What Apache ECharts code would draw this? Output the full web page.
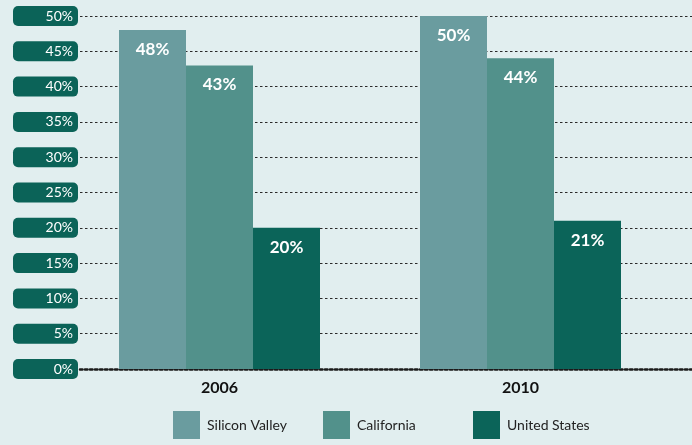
<!DOCTYPE html>
<html><head><meta charset="utf-8">
<script src="https://cdn.jsdelivr.net/npm/echarts@6/dist/echarts.min.js"></script>
<style>html,body{margin:0;padding:0;background:#e1eeef}#c{width:692px;height:445px}</style>
</head><body><div id="c"></div>
<script>
const categories = ['2006', '2010'];
const siliconValley = [48, 50];
const california = [43, 44];
const unitedStates = [20, 21];
const seriesNames = ['Silicon Valley', 'California', 'United States'];
const colors = ['#6a9c9f', '#52918b', '#0b6459'];

const font = 'Lato, "Open Sans", sans-serif';
const chart = echarts.init(document.getElementById('c'));
const yBase = {type: 'value', min: 0, max: 50, interval: 5};
const labelCfg = {show: true, position: 'insideTop', distance: 11, color: '#fff', fontSize: 17, fontWeight: 'bold', fontFamily: font, formatter: p => p.value + '%'};
function mk(name, data, color) {
  return {name, type: 'bar', data, xAxisIndex: 0, yAxisIndex: 0, barWidth: 67, barGap: '0%',
    itemStyle: {color}, label: labelCfg, emphasis: {disabled: true}};
}
const legendLefts = [173, 323, 473];
chart.setOption({
  backgroundColor: '#e1eeef',
  animation: false,
  color: colors,
  grid: [
    {left: 69, right: 21, top: 16, bottom: 76},
    {left: 80, right: 0, top: 16, bottom: 76}
  ],
  xAxis: [
    {type: 'category', data: categories, gridIndex: 0, axisLine: {show: false}, axisTick: {show: false},
      axisLabel: {margin: 11, color: '#111', fontSize: 16, fontWeight: 'bold', fontFamily: font}},
    {type: 'value', gridIndex: 1, min: 0, max: 1, show: true, splitLine: {show: false}, axisTick: {show: false}, axisLabel: {show: false},
      axisLine: {show: true, lineStyle: {color: '#1a1a1a', width: 2.5, type: [2.5, 2.5]}}}
  ],
  yAxis: [
    Object.assign({}, yBase, {gridIndex: 0, show: false}),
    Object.assign({}, yBase, {gridIndex: 1, axisLine: {show: false}, axisTick: {show: false},
      splitLine: {show: true, lineStyle: {color: '#2a2a2a', width: 1, type: [2.5, 2.5]}},
      axisLabel: {margin: 2, formatter: '{value}%', color: '#fff', fontSize: 14, fontFamily: font, align: 'right',
        backgroundColor: '#0b6358', borderRadius: 5, width: 55, lineHeight: 14, padding: [3, 5, 3, 5]}})
  ],
  legend: seriesNames.map((n, i) => ({
    left: legendLefts[i], top: 411, itemWidth: 27, itemHeight: 28, padding: 0, icon: 'rect',
    data: [n], selectedMode: false,
    textStyle: {color: '#222', fontSize: 14, fontFamily: font, padding: [14, 0, 0, 2]}
  })),
  series: [
    mk(seriesNames[0], siliconValley, colors[0]),
    mk(seriesNames[1], california, colors[1]),
    mk(seriesNames[2], unitedStates, colors[2])
  ]
});
</script></body></html>
